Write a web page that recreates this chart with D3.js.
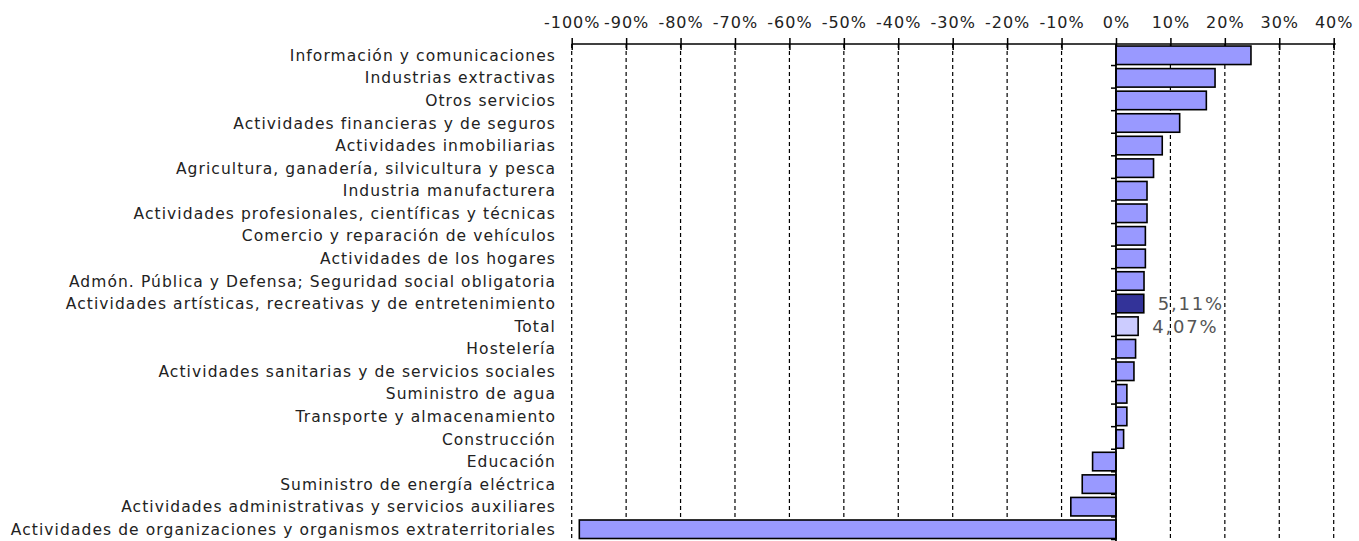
<!DOCTYPE html>
<html>
<head>
<meta charset="utf-8">
<script src="https://cdn.jsdelivr.net/npm/d3@7"></script>
<style>
  body { margin:0; background:#fff; }
  svg text { font-family: "DejaVu Sans", sans-serif; }
</style>
</head>
<body>
<div id="plot" class="canvas" style="width:1359px;height:541px;"></div>
<script>
// categories top to bottom
var sectores = [
  'Información y comunicaciones',
  'Industrias extractivas',
  'Otros servicios',
  'Actividades financieras y de seguros',
  'Actividades inmobiliarias',
  'Agricultura, ganadería, silvicultura y pesca',
  'Industria manufacturera',
  'Actividades profesionales, científicas y técnicas',
  'Comercio y reparación de vehículos',
  'Actividades de los hogares',
  'Admón. Pública y Defensa; Seguridad social obligatoria',
  'Actividades artísticas, recreativas y de entretenimiento',
  'Total',
  'Hostelería',
  'Actividades sanitarias y de servicios sociales',
  'Suministro de agua',
  'Transporte y almacenamiento',
  'Construcción',
  'Educación',
  'Suministro de energía eléctrica',
  'Actividades administrativas y servicios auxiliares',
  'Actividades de organizaciones y organismos extraterritoriales'
];
// variation (%)
var variacion = [24.8, 18.2, 16.6, 11.7, 8.5, 6.9, 5.7, 5.7, 5.4, 5.4, 5.15, 5.11, 4.07,
  3.6, 3.3, 2.0, 2.0, 1.4, -4.3, -6.2, -8.3, -98.6];
var ticksX = [-100,-90,-80,-70,-60,-50,-40,-30,-20,-10,0,10,20,30,40];
// value labels shown on the chart
var etiquetas = {'Actividades artísticas, recreativas y de entretenimiento':'5,11%', 'Total':'4,07%'};

var data = sectores.map(function(s,i){ return {name:s, value:variacion[i]}; });

var svg = d3.select('.canvas').append('svg')
  .attr('width',1359).attr('height',541);

var x = d3.scaleLinear().domain([-100,40]).range([571.7,1333.7]);
var y = d3.scaleBand().domain(sectores).range([44, 44+22*22.57]).paddingInner(0.18).paddingOuter(0.09);

// dashed grid
svg.append('g').selectAll('line').data(ticksX.filter(function(d){return d!==0;}))
  .enter().append('line')
  .attr('x1',function(d){return x(d);}).attr('x2',function(d){return x(d);})
  .attr('y1',44).attr('y2',541)
  .attr('stroke','#000').attr('stroke-width',1.2).attr('stroke-dasharray','4,3');

// top axis
var xAxis = d3.axisTop(x).tickValues(ticksX).tickSize(6)
  .tickFormat(function(d){return d+'%';});
var gx = svg.append('g').attr('transform','translate(0,44)').call(xAxis);
gx.select('.domain').attr('stroke','#000').attr('stroke-width',1.5).attr('d','M'+x(-100)+',0H'+(x(40)+2));
gx.selectAll('.tick line').attr('stroke','#000').attr('stroke-width',1.5).attr('y1',6);
gx.selectAll('.tick text').attr('y',-16).attr('fill','#222')
  .style('font-size','16px').style('letter-spacing','1px');

// bars
svg.append('g').selectAll('rect').data(data).enter().append('rect')
  .attr('x',function(d){return x(Math.min(0,d.value));})
  .attr('y',function(d){return y(d.name);})
  .attr('width',function(d){return Math.abs(x(d.value)-x(0));})
  .attr('height',y.bandwidth())
  .attr('fill',function(d){
    if(d.name==='Total') return '#ccccff';
    if(etiquetas[d.name]) return '#333399';
    return '#9999ff';
  })
  .attr('stroke','#000').attr('stroke-width',1.6);

// vertical axis at zero
svg.append('line').attr('x1',x(0)).attr('x2',x(0)).attr('y1',44).attr('y2',541)
  .attr('stroke','#000').attr('stroke-width',1.8);
svg.append('g').selectAll('line').data(sectores).enter().append('line')
  .attr('x1',x(0)-5).attr('x2',x(0))
  .attr('y1',function(d){return y(d)+y.bandwidth()+1;})
  .attr('y2',function(d){return y(d)+y.bandwidth()+1;})
  .attr('stroke','#000').attr('stroke-width',1.5);

// category labels
svg.append('g').selectAll('text').data(sectores).enter().append('text')
  .attr('x',556).attr('y',function(d){return y(d)+y.bandwidth()/2;})
  .attr('dy','0.36em').attr('text-anchor','end')
  .attr('fill','#222').style('font-size','15.5px').style('letter-spacing','1.08px')
  .text(function(d){return d;});

// value labels
svg.append('g').selectAll('text').data(data.filter(function(d){return etiquetas[d.name];}))
  .enter().append('text')
  .attr('x',function(d){return x(d.value)+14;})
  .attr('y',function(d){return y(d.name)+y.bandwidth()/2;})
  .attr('dy','0.36em').attr('fill','#555')
  .style('font-size','18px').style('letter-spacing','1.8px')
  .text(function(d){return etiquetas[d.name];});
</script>
</body>
</html>
